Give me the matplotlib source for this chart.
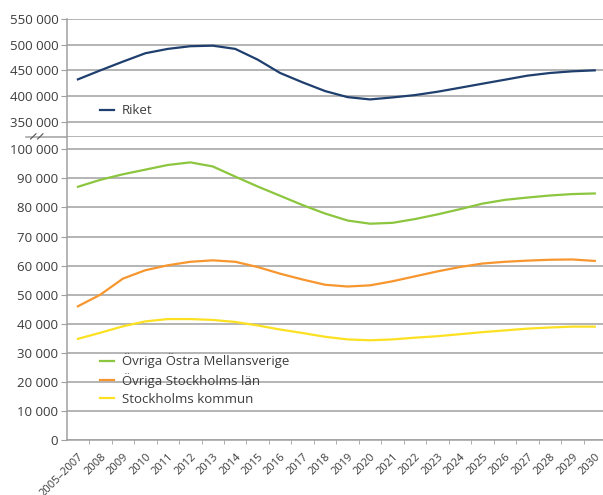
import matplotlib
matplotlib.use('Agg')
import matplotlib.pyplot as plt
import matplotlib.transforms as mtransforms
from matplotlib.ticker import FuncFormatter, FixedLocator

plt.rcParams['font.family'] = ['Open Sans', 'DejaVu Sans']

# kategorier och serier (tusental läses av från bilden)
years = ['2005–2007'] + [str(y) for y in range(2008, 2031)]

riket = [432.7, 450.3, 467.3, 483.7, 492.2, 497.4, 498.5, 492.2, 471.2, 445.1,
         426.8, 409.8, 398.0, 393.5, 397.4, 402.0, 408.5, 416.3, 424.2, 432.0,
         439.9, 445.1, 448.4, 450.3]
ostra_mellansverige = [87.1, 89.5, 91.4, 93.0, 94.6, 95.5, 94.1, 90.6, 87.2, 84.0,
                       80.8, 77.9, 75.5, 74.4, 74.7, 76.0, 77.6, 79.4, 81.3, 82.6,
                       83.4, 84.1, 84.6, 84.8]
stockholms_lan = [46.0, 50.0, 55.5, 58.4, 60.1, 61.3, 61.8, 61.3, 59.5, 57.2,
                  55.2, 53.4, 52.8, 53.2, 54.6, 56.3, 58.0, 59.5, 60.7, 61.3,
                  61.7, 62.0, 62.1, 61.6]
stockholms_kommun = [34.8, 36.9, 39.1, 40.8, 41.6, 41.6, 41.3, 40.6, 39.4, 38.0,
                     36.8, 35.5, 34.6, 34.3, 34.6, 35.2, 35.7, 36.4, 37.1, 37.7,
                     38.3, 38.7, 39.0, 39.0]

top_ticks = [350000, 400000, 450000, 500000, 550000]
bot_ticks = list(range(0, 100001, 10000))

GRID = '#a0a0a0'
TXT = '#3c3c3c'

W, H = 603, 495
def box(x0, y0, x1, y1):
    return [x0 / W, 1 - y1 / H, (x1 - x0) / W, (y1 - y0) / H]

fig = plt.figure(figsize=(6.03, 4.95), dpi=100)
ax_top = fig.add_axes(box(66.7, 19.3, 606, 136.7))
ax_bot = fig.add_axes(box(66.7, 136.7, 606, 440))

fmt = FuncFormatter(lambda v, p: f'{int(round(v)):,}'.replace(',', ' '))
x = list(range(len(years)))

for ax in (ax_top, ax_bot):
    ax.set_xlim(-0.5, len(years) - 0.5)
    ax.yaxis.grid(True, color=GRID, lw=1.1)
    ax.set_axisbelow(True)
    ax.yaxis.set_major_formatter(fmt)
    ax.tick_params(axis='y', length=4, color=GRID, labelcolor=TXT, labelsize=9.5, pad=2)
    for s in ('top', 'right'):
        ax.spines[s].set_visible(False)
    ax.spines['left'].set_color(GRID)
    ax.spines['left'].set_linewidth(1.1)
    ax.spines['bottom'].set_color(GRID)
    ax.spines['bottom'].set_linewidth(1.1)

# övre delen: Riket
ax_top.plot(x, [v * 1000 for v in riket], color='#1f3f6e', lw=1.6, label='Riket',
            solid_joinstyle='round')
ax_top.set_ylim(320700, 550000)
ax_top.set_yticks(top_ticks)
ax_top.set_xticks([])
ax_top.legend(loc='upper left', bbox_to_anchor=(0.0617, 0.275), frameon=False,
              borderpad=0, borderaxespad=0, handlelength=1.1, handletextpad=0.55,
              fontsize=9.5, labelcolor=TXT)

# brytmarkering
ax_top.plot([-0.0755, 0], [0, 0], transform=ax_top.transAxes, color=GRID, lw=1.1, clip_on=False)
for dx in (-0.062, -0.049):
    ax_top.plot([dx - 0.005, dx + 0.005], [-0.02, 0.025], transform=ax_top.transAxes,
                color='#555555', lw=0.8, clip_on=False)

# nedre delen
ax_bot.plot(x, [v * 1000 for v in ostra_mellansverige], color='#8cc63e', lw=1.6,
            label='Övriga Östra Mellansverige', solid_joinstyle='round')
ax_bot.plot(x, [v * 1000 for v in stockholms_lan], color='#f7962e', lw=1.6,
            label='Övriga Stockholms län', solid_joinstyle='round')
ax_bot.plot(x, [v * 1000 for v in stockholms_kommun], color='#fbe122', lw=1.6,
            label='Stockholms kommun', solid_joinstyle='round')
ax_bot.set_ylim(0, 104330)
ax_bot.set_yticks(bot_ticks)
ax_bot.set_xticks(x)
ax_bot.set_xticklabels(years, rotation=45, ha='right', rotation_mode='anchor', va='center')
ax_bot.xaxis.set_minor_locator(FixedLocator([i + 0.5 for i in x[:-1]]))
ax_bot.tick_params(axis='x', which='major', length=0, labelsize=8, labelcolor=TXT, pad=10)
ax_bot.tick_params(axis='x', which='minor', length=3, color=GRID)
shift = mtransforms.ScaledTranslation(0.04, -0.01, fig.dpi_scale_trans)
for lab in ax_bot.get_xticklabels():
    lab.set_transform(lab.get_transform() + shift)
ax_bot.legend(loc='upper left', bbox_to_anchor=(0.0617, 0.2855), frameon=False,
              borderpad=0, borderaxespad=0, handlelength=1.1, handletextpad=0.55,
              labelspacing=0.36, fontsize=9.5, labelcolor=TXT)

fig.savefig('out.png', dpi=100)
